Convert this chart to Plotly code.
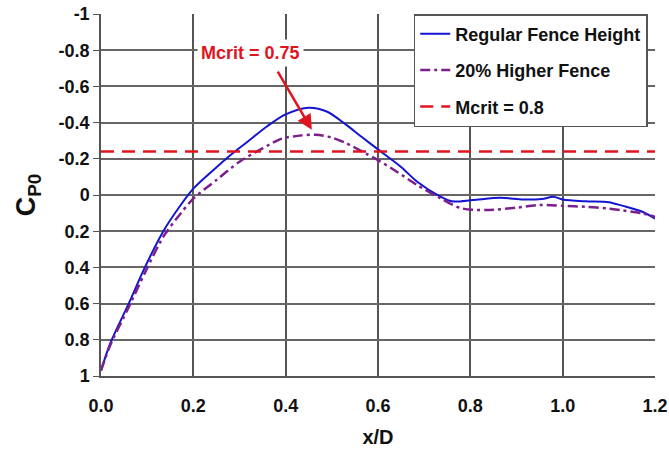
import plotly.graph_objects as go

# Data
x_regular = [0.0, 0.02, 0.06, 0.095, 0.135, 0.17, 0.2, 0.24, 0.28, 0.32, 0.36, 0.40, 0.45, 0.49,
             0.53, 0.565, 0.60, 0.65, 0.685, 0.735, 0.76, 0.805, 0.865, 0.915, 0.955, 0.98, 1.00,
             1.05, 1.10, 1.13, 1.17, 1.20]
cp_regular = [0.97, 0.82, 0.60, 0.40, 0.20, 0.065, -0.035, -0.13, -0.22, -0.30, -0.38, -0.445, -0.482, -0.46,
              -0.39, -0.32, -0.252, -0.155, -0.073, 0.009, 0.035, 0.028, 0.015, 0.025, 0.022, 0.01, 0.025,
              0.035, 0.04, 0.06, 0.09, 0.13]

x_higher = [0.0, 0.02, 0.06, 0.095, 0.135, 0.17, 0.2, 0.25, 0.30, 0.35, 0.39, 0.43, 0.465, 0.50,
            0.53, 0.575, 0.60, 0.64, 0.685, 0.735, 0.78, 0.835, 0.90, 0.95, 1.00, 1.05, 1.10,
            1.13, 1.17, 1.20]
cp_higher = [0.97, 0.83, 0.62, 0.43, 0.23, 0.11, 0.02, -0.083, -0.184, -0.258, -0.31, -0.328, -0.333, -0.317,
             -0.288, -0.227, -0.193, -0.13, -0.055, 0.018, 0.073, 0.083, 0.07, 0.055, 0.06, 0.065, 0.075,
             0.085, 0.10, 0.12]

mcrit_x = [0.0, 1.2]
mcrit_cp = [-0.24, -0.24]

y_tickvals = [-1, -0.8, -0.6, -0.4, -0.2, 0, 0.2, 0.4, 0.6, 0.8, 1]
y_ticktext = ["-1", "-0.8", "-0.6", "-0.4", "-0.2", "0", "0.2", "0.4", "0.6", "0.8", "1"]
x_tickvals = [0.0, 0.2, 0.4, 0.6, 0.8, 1.0, 1.2]
x_ticktext = ["0.0", "0.2", "0.4", "0.6", "0.8", "1.0", "1.2"]

FONT = "Liberation Sans, Arial, sans-serif"

fig = go.Figure()
fig.add_trace(go.Scatter(x=x_regular, y=cp_regular, mode="lines", name="Regular Fence Height",
                         line=dict(color="#1414d2", width=2, shape="spline", smoothing=0.8),
                         legendgroup="a"))
fig.add_trace(go.Scatter(x=x_higher, y=cp_higher, mode="lines", name="20% Higher Fence",
                         line=dict(color="#7b1f8c", width=2.5, dash="10px,4px,3px,4px",
                                   shape="spline", smoothing=0.8),
                         legendgroup="b"))
fig.add_trace(go.Scatter(x=mcrit_x, y=mcrit_cp, mode="lines", name="Mcrit = 0.8",
                         line=dict(color="#e0141e", width=2.5, dash="13px,8px"),
                         legendgroup="c"))

fig.add_annotation(x=0.4566, y=-0.36, ax=0.381, ay=-0.69, xref="x", yref="y", axref="x", ayref="y",
                   text="", showarrow=True, arrowhead=2, arrowsize=1.2, arrowwidth=2.5,
                   arrowcolor="#e0141e")
fig.add_annotation(x=0.323, y=-0.785, xref="x", yref="y", text="Mcrit = 0.75", showarrow=False,
                   font=dict(family=FONT, size=18, color="#e0141e", weight="bold"),
                   bgcolor="white", borderpad=3)

fig.update_layout(
    width=669, height=450,
    margin=dict(l=101, r=14, t=14, b=74),
    paper_bgcolor="white", plot_bgcolor="white",
    font=dict(family=FONT, size=16, color="#111", weight="bold"),
    showlegend=True,
    legend=dict(x=0.5645, y=1.0, xanchor="left", yanchor="top",
                bgcolor="white", bordercolor="#555", borderwidth=1.5,
                font=dict(family=FONT, size=18, color="#111", weight="bold"),
                traceorder="grouped", tracegroupgap=10, itemwidth=30),
    xaxis=dict(range=[0, 1.2], tickvals=x_tickvals, ticktext=x_ticktext,
               showgrid=True, gridcolor="#555", gridwidth=1.5,
               zeroline=False, showline=True, linecolor="#555", linewidth=1.5,
               ticks="", ticklabelstandoff=13, automargin=False, ticklabeloverflow="allow",
               tickfont=dict(family=FONT, size=18, color="#111", weight="bold"),
               title=dict(text="x/D", font=dict(family=FONT, size=20, color="#111", weight="bold"),
                          standoff=15)),
    yaxis=dict(range=[1, -1], tickvals=y_tickvals, ticktext=y_ticktext,
               showgrid=True, gridcolor="#666", gridwidth=1.5,
               zeroline=False, showline=True, linecolor="#555", linewidth=1.5,
               ticks="outside", ticklen=6, tickcolor="#555", automargin=False, ticklabeloverflow="allow",
               tickfont=dict(family=FONT, size=18, color="#111", weight="bold"),
               title=dict(text="C<sub>P0</sub>", font=dict(family=FONT, size=27, color="#111", weight="bold"),
                          standoff=15)),
)

fig.write_html("out.html", config={"displayModeBar": False},
               post_script="document.body.style.margin='0';")
